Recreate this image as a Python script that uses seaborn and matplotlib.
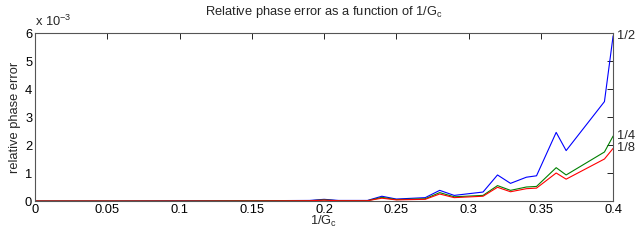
import matplotlib
matplotlib.use("Agg")
import matplotlib.pyplot as plt
import matplotlib.ticker as mticker
import numpy as np
import pandas as pd
import seaborn as sns

# values (y in units of 1e-3)
inv_gc = [0.0, 0.05, 0.1, 0.15, 0.19, 0.2, 0.21, 0.23, 0.24, 0.25, 0.27, 0.28,
          0.29, 0.31, 0.32, 0.329, 0.34, 0.347, 0.3606, 0.3675, 0.394, 0.4]
err_half = [0.0, 0.0, 0.01, 0.01, 0.02, 0.06, 0.02, 0.02, 0.17, 0.07, 0.12, 0.38,
            0.2, 0.32, 0.93, 0.63, 0.85, 0.9, 2.45, 1.8, 3.55, 5.9]
err_quarter = [0.0, 0.0, 0.0, 0.01, 0.01, 0.04, 0.01, 0.01, 0.13, 0.05, 0.08, 0.3,
               0.15, 0.2, 0.55, 0.38, 0.5, 0.52, 1.19, 0.93, 1.75, 2.32]
err_eighth = [0.0, 0.0, 0.0, 0.0, 0.01, 0.03, 0.01, 0.01, 0.1, 0.04, 0.06, 0.25,
              0.12, 0.17, 0.49, 0.33, 0.44, 0.46, 1.0, 0.78, 1.5, 1.88]
series_names = ["1/2", "1/4", "1/8"]
colors = ["#0000ff", "#008000", "#ff0000"]

frames = []
for name, vals in zip(series_names, [err_half, err_quarter, err_eighth]):
    frames.append(pd.DataFrame({"x": inv_gc, "y": np.array(vals) * 1e-3, "s": name}))
df = pd.concat(frames, ignore_index=True)

sns.set_theme(style="white")
plt.rcParams["font.family"] = ["Liberation Sans", "DejaVu Sans"]
plt.rcParams["mathtext.fontset"] = "custom"
plt.rcParams["mathtext.rm"] = "Liberation Sans"
plt.rcParams["mathtext.it"] = "Liberation Sans"

fs = 9.3
fig = plt.figure(figsize=(6.4, 2.4), dpi=100)
ax = fig.add_axes([0.0547, 0.1625, 0.9033, 0.7])

sns.lineplot(data=df, x="x", y="y", hue="s", palette=dict(zip(series_names, colors)),
             linewidth=0.8, legend=False, ax=ax)

ax.set_xlim(0, 0.4)
ax.set_ylim(0, 6e-3)
ax.set_xticks(np.arange(0, 0.401, 0.05))
ax.set_yticks(np.arange(0, 6.01e-3, 1e-3))
ax.xaxis.set_major_formatter(mticker.FuncFormatter(lambda v, p: "%g" % round(v, 3)))
ax.yaxis.set_major_formatter(mticker.FuncFormatter(lambda v, p: "%g" % round(v * 1e3, 3)))
ax.tick_params(direction="in", length=4, width=0.6, labelsize=fs, colors="black",
               top=True, right=True, pad=2)
for sp in ax.spines.values():
    sp.set_color("#555555")
    sp.set_linewidth(0.8)

ax.set_title(r"Relative phase error as a function of 1/G$_\mathrm{c}$", fontsize=fs, pad=13)
ax.set_xlabel(r"1/G$_\mathrm{c}$", fontsize=fs, labelpad=-1)
ax.set_ylabel("relative phase error", fontsize=fs, labelpad=3)
ax.text(0.0, 1.025, r"x 10$^{-3}$", transform=ax.transAxes, fontsize=fs, va="bottom")

for name, vals in zip(series_names, [err_half, err_quarter, err_eighth]):
    ax.annotate(name, xy=(inv_gc[-1], vals[-1] * 1e-3), xytext=(3, 0),
                textcoords="offset points", fontsize=fs, va="center",
                annotation_clip=False)

fig.savefig("out.png", dpi=100)
